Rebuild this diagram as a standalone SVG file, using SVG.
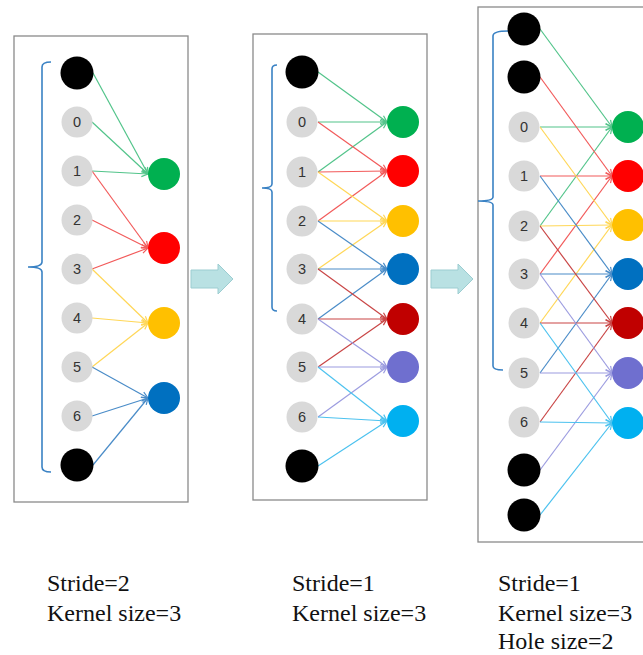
<svg xmlns="http://www.w3.org/2000/svg" width="643" height="655" viewBox="0 0 643 655">
<style>
.panel{fill:#fff;stroke:#8a8a8a;stroke-width:1.3}
.brace{fill:none;stroke:#3a82c4;stroke-width:1.6}
.in{fill:#d9d9d9}
.pad{fill:#000}
.num{font-family:"Liberation Sans",Arial,sans-serif;font-size:14.5px;fill:#333;text-anchor:middle}
.cap{font-family:"Liberation Serif","Times New Roman",serif;font-size:24px;fill:#111}
.step{fill:#b9e1e3;stroke:#9ccdd1;stroke-width:1}
line{stroke-width:1.2;fill:none}
.lg{stroke:#52c48a;marker-end:url(#mg)}
.lr{stroke:#f25a5a;marker-end:url(#mr)}
.ly{stroke:#ffd757;marker-end:url(#my)}
.lb{stroke:#4a8cc8;marker-end:url(#mb)}
.ld{stroke:#c94545;marker-end:url(#md)}
.lp{stroke:#9c9ce0;marker-end:url(#mp)}
.lc{stroke:#4cc2ef;marker-end:url(#mc)}
</style>
<defs>
<marker id="mg" viewBox="0 0 8 8" refX="7.5" refY="4" markerWidth="8" markerHeight="8" orient="auto" markerUnits="userSpaceOnUse"><path d="M1,1 L7.5,4 L1,7" fill="none" stroke="#52c48a" stroke-width="1.2"/></marker>
<marker id="mr" viewBox="0 0 8 8" refX="7.5" refY="4" markerWidth="8" markerHeight="8" orient="auto" markerUnits="userSpaceOnUse"><path d="M1,1 L7.5,4 L1,7" fill="none" stroke="#f25a5a" stroke-width="1.2"/></marker>
<marker id="my" viewBox="0 0 8 8" refX="7.5" refY="4" markerWidth="8" markerHeight="8" orient="auto" markerUnits="userSpaceOnUse"><path d="M1,1 L7.5,4 L1,7" fill="none" stroke="#ffd757" stroke-width="1.2"/></marker>
<marker id="mb" viewBox="0 0 8 8" refX="7.5" refY="4" markerWidth="8" markerHeight="8" orient="auto" markerUnits="userSpaceOnUse"><path d="M1,1 L7.5,4 L1,7" fill="none" stroke="#4a8cc8" stroke-width="1.2"/></marker>
<marker id="md" viewBox="0 0 8 8" refX="7.5" refY="4" markerWidth="8" markerHeight="8" orient="auto" markerUnits="userSpaceOnUse"><path d="M1,1 L7.5,4 L1,7" fill="none" stroke="#c94545" stroke-width="1.2"/></marker>
<marker id="mp" viewBox="0 0 8 8" refX="7.5" refY="4" markerWidth="8" markerHeight="8" orient="auto" markerUnits="userSpaceOnUse"><path d="M1,1 L7.5,4 L1,7" fill="none" stroke="#9c9ce0" stroke-width="1.2"/></marker>
<marker id="mc" viewBox="0 0 8 8" refX="7.5" refY="4" markerWidth="8" markerHeight="8" orient="auto" markerUnits="userSpaceOnUse"><path d="M1,1 L7.5,4 L1,7" fill="none" stroke="#4cc2ef" stroke-width="1.2"/></marker>
</defs>
<rect width="643" height="655" fill="#fff"/>

<!-- panels -->
<rect class="panel" x="14" y="36" width="174" height="466"/>
<rect class="panel" x="253" y="34" width="174" height="466"/>
<rect class="panel" x="478" y="7" width="180" height="535"/>

<!-- braces -->
<path class="brace" d="M51,62 Q42,62 42,67 L42,262 Q42,267 28,267 Q42,267 42,272 L42,467 Q42,472 51,472"/>
<path class="brace" d="M277,65 Q272,65 272,69 L272,184 Q272,188 262,188 Q272,188 272,192 L272,307 Q272,311 277,311"/>
<path class="brace" d="M508,31 Q493,31 493,36 L493,197 Q493,201 478,201 Q493,201 493,205 L493,366 Q493,370 503,370"/>

<!-- step arrows -->
<polygon class="step" points="191,270 218,270 218,264 233,279 218,294 218,288 191,288"/>
<polygon class="step" points="431,270 458,270 458,264 473,279 458,294 458,288 431,288"/>

<g id="connectors">
<!-- panel 1 -->
<line class="lg" x1="93" y1="73" x2="148" y2="174"/>
<line class="lg" x1="92" y1="122" x2="148" y2="174"/>
<line class="lg" x1="92" y1="171" x2="148" y2="174"/>
<line class="lr" x1="92" y1="171" x2="148" y2="248"/>
<line class="lr" x1="92" y1="220" x2="148" y2="248"/>
<line class="lr" x1="92" y1="269" x2="148" y2="248"/>
<line class="ly" x1="92" y1="269" x2="148" y2="323"/>
<line class="ly" x1="92" y1="318" x2="148" y2="323"/>
<line class="ly" x1="92" y1="367" x2="148" y2="323"/>
<line class="lb" x1="92" y1="367" x2="148" y2="398"/>
<line class="lb" x1="92" y1="416" x2="148" y2="398"/>
<line class="lb" x1="93" y1="465" x2="148" y2="398"/>
<!-- panel 2 -->
<line class="lg" x1="318" y1="72" x2="387" y2="122"/>
<line class="lg" x1="318" y1="122" x2="387" y2="122"/>
<line class="lg" x1="318" y1="172" x2="387" y2="122"/>
<line class="lr" x1="318" y1="122" x2="387" y2="171"/>
<line class="lr" x1="318" y1="172" x2="387" y2="171"/>
<line class="lr" x1="318" y1="221" x2="387" y2="171"/>
<line class="ly" x1="318" y1="172" x2="387" y2="221"/>
<line class="ly" x1="318" y1="221" x2="387" y2="221"/>
<line class="ly" x1="318" y1="269" x2="387" y2="221"/>
<line class="lb" x1="318" y1="221" x2="387" y2="269"/>
<line class="lb" x1="318" y1="269" x2="387" y2="269"/>
<line class="lb" x1="318" y1="319" x2="387" y2="269"/>
<line class="ld" x1="318" y1="269" x2="387" y2="319"/>
<line class="ld" x1="318" y1="319" x2="387" y2="319"/>
<line class="ld" x1="318" y1="367" x2="387" y2="319"/>
<line class="lp" x1="318" y1="319" x2="387" y2="367"/>
<line class="lp" x1="318" y1="367" x2="387" y2="367"/>
<line class="lp" x1="318" y1="417" x2="387" y2="367"/>
<line class="lc" x1="318" y1="367" x2="387" y2="421"/>
<line class="lc" x1="318" y1="417" x2="387" y2="421"/>
<line class="lc" x1="318" y1="466" x2="387" y2="421"/>
<!-- panel 3 -->
<line class="lg" x1="540" y1="29" x2="612" y2="127"/>
<line class="lg" x1="540" y1="127" x2="612" y2="127"/>
<line class="lg" x1="540" y1="226" x2="612" y2="127"/>
<line class="lr" x1="540" y1="77" x2="612" y2="176"/>
<line class="lr" x1="540" y1="176" x2="612" y2="176"/>
<line class="lr" x1="540" y1="274" x2="612" y2="176"/>
<line class="ly" x1="540" y1="127" x2="612" y2="225"/>
<line class="ly" x1="540" y1="226" x2="612" y2="225"/>
<line class="ly" x1="540" y1="323" x2="612" y2="225"/>
<line class="lb" x1="540" y1="176" x2="612" y2="274"/>
<line class="lb" x1="540" y1="274" x2="612" y2="274"/>
<line class="lb" x1="540" y1="373" x2="612" y2="274"/>
<line class="ld" x1="540" y1="226" x2="612" y2="323"/>
<line class="ld" x1="540" y1="323" x2="612" y2="323"/>
<line class="ld" x1="540" y1="422" x2="612" y2="323"/>
<line class="lp" x1="540" y1="274" x2="612" y2="373"/>
<line class="lp" x1="540" y1="373" x2="612" y2="373"/>
<line class="lp" x1="540" y1="470" x2="612" y2="373"/>
<line class="lc" x1="540" y1="323" x2="612" y2="423"/>
<line class="lc" x1="540" y1="422" x2="612" y2="423"/>
<line class="lc" x1="540" y1="515" x2="612" y2="423"/>
</g>

<!-- panel 1 nodes -->
<g id="p1-pad-top"><circle class="pad" cx="77" cy="73" r="16.5"/></g>
<g id="p1-in0"><circle class="in" cx="77" cy="122" r="15.5"/><text class="num" x="77" y="127">0</text></g>
<g id="p1-in1"><circle class="in" cx="77" cy="171" r="15.5"/><text class="num" x="77" y="176">1</text></g>
<g id="p1-in2"><circle class="in" cx="77" cy="220" r="15.5"/><text class="num" x="77" y="225">2</text></g>
<g id="p1-in3"><circle class="in" cx="77" cy="269" r="15.5"/><text class="num" x="77" y="274">3</text></g>
<g id="p1-in4"><circle class="in" cx="77" cy="318" r="15.5"/><text class="num" x="77" y="323">4</text></g>
<g id="p1-in5"><circle class="in" cx="77" cy="367" r="15.5"/><text class="num" x="77" y="372">5</text></g>
<g id="p1-in6"><circle class="in" cx="77" cy="416" r="15.5"/><text class="num" x="77" y="421">6</text></g>
<g id="p1-pad-bot"><circle class="pad" cx="77" cy="465" r="16.5"/></g>
<g id="p1-out0"><circle cx="164" cy="174" r="16" fill="#00b050"/></g>
<g id="p1-out1"><circle cx="164" cy="248" r="16" fill="#ff0000"/></g>
<g id="p1-out2"><circle cx="164" cy="323" r="16" fill="#ffc000"/></g>
<g id="p1-out3"><circle cx="164" cy="398" r="16" fill="#0070c0"/></g>

<!-- panel 2 nodes -->
<g id="p2-pad-top"><circle class="pad" cx="302" cy="72" r="16.5"/></g>
<g id="p2-in0"><circle class="in" cx="302" cy="122" r="15.5"/><text class="num" x="302" y="127">0</text></g>
<g id="p2-in1"><circle class="in" cx="302" cy="172" r="15.5"/><text class="num" x="302" y="177">1</text></g>
<g id="p2-in2"><circle class="in" cx="302" cy="221" r="15.5"/><text class="num" x="302" y="226">2</text></g>
<g id="p2-in3"><circle class="in" cx="302" cy="269" r="15.5"/><text class="num" x="302" y="274">3</text></g>
<g id="p2-in4"><circle class="in" cx="302" cy="319" r="15.5"/><text class="num" x="302" y="324">4</text></g>
<g id="p2-in5"><circle class="in" cx="302" cy="367" r="15.5"/><text class="num" x="302" y="372">5</text></g>
<g id="p2-in6"><circle class="in" cx="302" cy="417" r="15.5"/><text class="num" x="302" y="422">6</text></g>
<g id="p2-pad-bot"><circle class="pad" cx="302" cy="466" r="16.5"/></g>
<g id="p2-out0"><circle cx="403" cy="122" r="16" fill="#00b050"/></g>
<g id="p2-out1"><circle cx="403" cy="171" r="16" fill="#ff0000"/></g>
<g id="p2-out2"><circle cx="403" cy="221" r="16" fill="#ffc000"/></g>
<g id="p2-out3"><circle cx="403" cy="269" r="16" fill="#0070c0"/></g>
<g id="p2-out4"><circle cx="403" cy="319" r="16" fill="#c00000"/></g>
<g id="p2-out5"><circle cx="403" cy="367" r="16" fill="#6f6fcf"/></g>
<g id="p2-out6"><circle cx="403" cy="421" r="16" fill="#00b0f0"/></g>

<!-- panel 3 nodes -->
<g id="p3-pad-top1"><circle class="pad" cx="524" cy="29" r="16.5"/></g>
<g id="p3-pad-top2"><circle class="pad" cx="524" cy="77" r="16.5"/></g>
<g id="p3-in0"><circle class="in" cx="524" cy="127" r="15.5"/><text class="num" x="524" y="132">0</text></g>
<g id="p3-in1"><circle class="in" cx="524" cy="176" r="15.5"/><text class="num" x="524" y="181">1</text></g>
<g id="p3-in2"><circle class="in" cx="524" cy="226" r="15.5"/><text class="num" x="524" y="231">2</text></g>
<g id="p3-in3"><circle class="in" cx="524" cy="274" r="15.5"/><text class="num" x="524" y="279">3</text></g>
<g id="p3-in4"><circle class="in" cx="524" cy="323" r="15.5"/><text class="num" x="524" y="328">4</text></g>
<g id="p3-in5"><circle class="in" cx="524" cy="373" r="15.5"/><text class="num" x="524" y="378">5</text></g>
<g id="p3-in6"><circle class="in" cx="524" cy="422" r="15.5"/><text class="num" x="524" y="427">6</text></g>
<g id="p3-pad-bot1"><circle class="pad" cx="524" cy="470" r="16.5"/></g>
<g id="p3-pad-bot2"><circle class="pad" cx="524" cy="515" r="16.5"/></g>
<g id="p3-out0"><circle cx="628" cy="127" r="16" fill="#00b050"/></g>
<g id="p3-out1"><circle cx="628" cy="176" r="16" fill="#ff0000"/></g>
<g id="p3-out2"><circle cx="628" cy="225" r="16" fill="#ffc000"/></g>
<g id="p3-out3"><circle cx="628" cy="274" r="16" fill="#0070c0"/></g>
<g id="p3-out4"><circle cx="628" cy="323" r="16" fill="#c00000"/></g>
<g id="p3-out5"><circle cx="628" cy="373" r="16" fill="#6f6fcf"/></g>
<g id="p3-out6"><circle cx="628" cy="423" r="16" fill="#00b0f0"/></g>

<!-- captions -->
<g id="cap1"><text class="cap" x="47" y="591">Stride=2</text><text class="cap" x="47" y="621">Kernel size=3</text></g>
<g id="cap2"><text class="cap" x="292" y="591">Stride=1</text><text class="cap" x="292" y="621">Kernel size=3</text></g>
<g id="cap3"><text class="cap" x="498" y="591">Stride=1</text><text class="cap" x="498" y="621">Kernel size=3</text><text class="cap" x="498" y="649">Hole size=2</text></g>
</svg>
